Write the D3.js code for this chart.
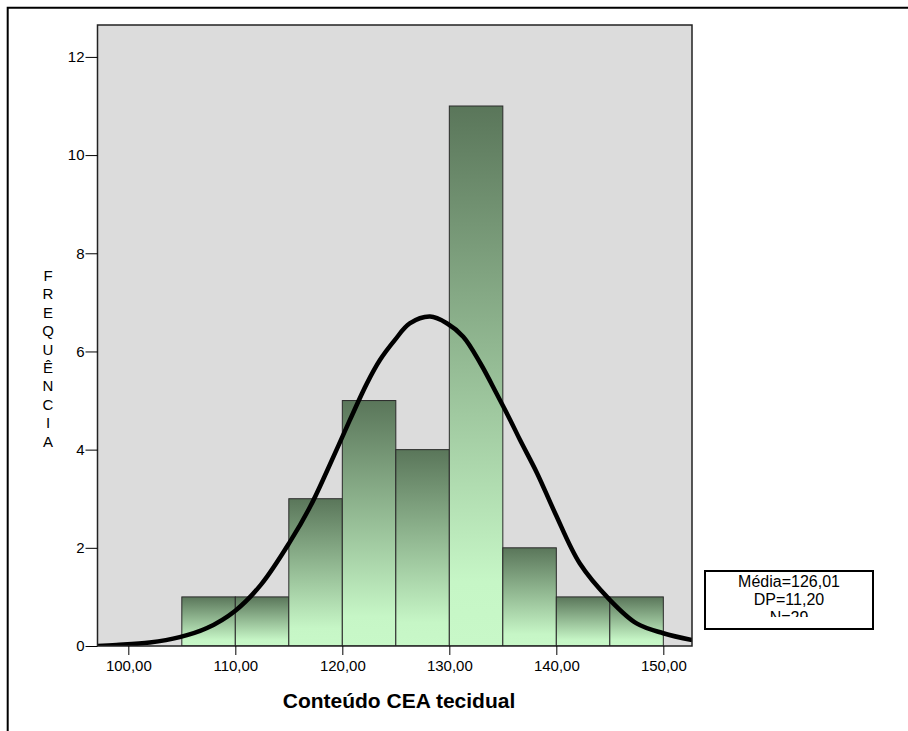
<!DOCTYPE html>
<html>
<head>
<meta charset="utf-8">
<script src="https://cdn.jsdelivr.net/npm/d3@7"></script>
<style>
  body { margin: 0; background: #fff; }
  svg text { font-family: "Liberation Sans", Arial, sans-serif; fill: #000; }
</style>
</head>
<body>
<div id="chart"></div>
<script>
// histogram bins (lower edge) and counts
var binStarts = [105, 110, 115, 120, 125, 130, 135, 140, 145];
var counts = [1, 1, 3, 5, 4, 11, 2, 1, 1];
var binWidth = 5;

// normal curve
var curveX = [97.1, 98.9, 102.0, 104.8, 107.3, 110.0, 112.4, 115.1, 117.0, 118.6, 120.7, 122.3, 123.5, 124.9, 126.3, 128.2, 129.8, 131.3, 132.9, 134.4, 135.7, 136.6, 138.2, 139.9, 142.2, 145.0, 147.5, 150.0, 152.7];
var curveY = [0.0, 0.02, 0.07, 0.18, 0.36, 0.72, 1.25, 2.12, 2.84, 3.58, 4.60, 5.35, 5.82, 6.23, 6.57, 6.71, 6.57, 6.30, 5.76, 5.15, 4.60, 4.20, 3.52, 2.70, 1.68, 0.94, 0.46, 0.26, 0.12];

var xTicks = [100, 110, 120, 130, 140, 150];
var yTicks = [0, 2, 4, 6, 8, 10, 12];
var yLabel = "FREQUÊNCIA";
var xTitle = "Conteúdo CEA tecidual";
var legendLines = ["Média=126,01", "DP=11,20", "N=29"];

var W = 908, H = 731;
var plot = {left: 97.5, right: 692, top: 25, bottom: 646};

var svg = d3.select("#chart").append("svg").attr("width", W).attr("height", H);

var defs = svg.append("defs");
var grad = defs.append("linearGradient").attr("id", "barGrad")
    .attr("x1", 0).attr("y1", 0).attr("x2", 0).attr("y2", 1);
grad.append("stop").attr("offset", "0%").attr("stop-color", "#5a765a");
grad.append("stop").attr("offset", "88%").attr("stop-color", "#c6f6c6");
grad.append("stop").attr("offset", "100%").attr("stop-color", "#c8f8c8");

defs.append("clipPath").attr("id", "plotClip").append("rect")
    .attr("x", plot.left).attr("y", plot.top)
    .attr("width", plot.right - plot.left).attr("height", plot.bottom - plot.top);

defs.append("clipPath").attr("id", "legClip").append("rect")
    .attr("x", 706).attr("y", 572).attr("width", 166).attr("height", 45);

// outer frame (top + left only)
svg.append("path").attr("d", "M7.7,731 V7.7 H908")
    .attr("fill", "none").attr("stroke", "#000").attr("stroke-width", 2);

var x = d3.scaleLinear().domain([97.12, 152.68]).range([plot.left, plot.right]);
var y = d3.scaleLinear().domain([0, 12.65]).range([plot.bottom, plot.top]);

var loc = d3.formatLocale({decimal: ",", thousands: ".", grouping: [3], currency: ["", ""]});
var fmt = loc.format(".2f");

svg.append("rect")
    .attr("x", plot.left).attr("y", plot.top)
    .attr("width", plot.right - plot.left).attr("height", plot.bottom - plot.top)
    .attr("fill", "#dcdcdc");

var g = svg.append("g").attr("clip-path", "url(#plotClip)");

g.selectAll("rect.bar").data(binStarts).enter().append("rect")
    .attr("class", "bar")
    .attr("x", function (d) { return x(d); })
    .attr("y", function (d, i) { return y(counts[i]); })
    .attr("width", function (d) { return x(d + binWidth) - x(d); })
    .attr("height", function (d, i) { return y(0) - y(counts[i]); })
    .attr("fill", "url(#barGrad)")
    .attr("stroke", "#2a2a2a").attr("stroke-width", 1);

var line = d3.line()
    .x(function (d, i) { return x(curveX[i]); })
    .y(function (d) { return y(d); })
    .curve(d3.curveCatmullRom);

g.append("path").datum(curveY)
    .attr("d", line)
    .attr("fill", "none").attr("stroke", "#000")
    .attr("stroke-width", 4.5).attr("stroke-linejoin", "round");

// plot frame
svg.append("rect")
    .attr("x", plot.left).attr("y", plot.top)
    .attr("width", plot.right - plot.left).attr("height", plot.bottom - plot.top)
    .attr("fill", "none").attr("stroke", "#222").attr("stroke-width", 1.5);

var yAxis = d3.axisLeft(y).tickValues(yTicks).tickSize(12).tickPadding(1)
    .tickFormat(function (d) { return d; });
var gy = svg.append("g").attr("transform", "translate(" + plot.left + ",0)").call(yAxis);
gy.select(".domain").remove();
gy.selectAll(".tick line").attr("stroke", "#000");
gy.selectAll(".tick text").attr("font-size", "15px").attr("font-family", "Liberation Sans, Arial, sans-serif").attr("fill", "#000");

var xAxis = d3.axisBottom(x).tickValues(xTicks).tickSize(9).tickPadding(5).tickFormat(fmt);
var gx = svg.append("g").attr("transform", "translate(0," + plot.bottom + ")").call(xAxis);
gx.select(".domain").remove();
gx.selectAll(".tick line").attr("stroke", "#000");
gx.selectAll(".tick text").attr("font-size", "15px").attr("font-family", "Liberation Sans, Arial, sans-serif").attr("fill", "#000");

// vertical stacked y label
svg.append("g").selectAll("text").data(yLabel.split("")).enter().append("text")
    .attr("x", 48)
    .attr("y", function (d, i) { return 280.7 + i * 18.45; })
    .attr("text-anchor", "middle")
    .attr("font-size", "15px")
    .text(function (d) { return d; });

svg.append("text")
    .attr("x", 399).attr("y", 708)
    .attr("text-anchor", "middle")
    .attr("font-size", "21px").attr("font-weight", "bold")
    .text(xTitle);

// legend box
svg.append("rect").attr("x", 705).attr("y", 571).attr("width", 168).attr("height", 58)
    .attr("fill", "#fff").attr("stroke", "#000").attr("stroke-width", 2);
svg.append("g").attr("clip-path", "url(#legClip)")
    .selectAll("text").data(legendLines).enter().append("text")
    .attr("x", 789)
    .attr("y", function (d, i) { return 587 + i * 18; })
    .attr("text-anchor", "middle")
    .attr("font-size", "16px")
    .text(function (d) { return d; });
</script>
</body>
</html>
